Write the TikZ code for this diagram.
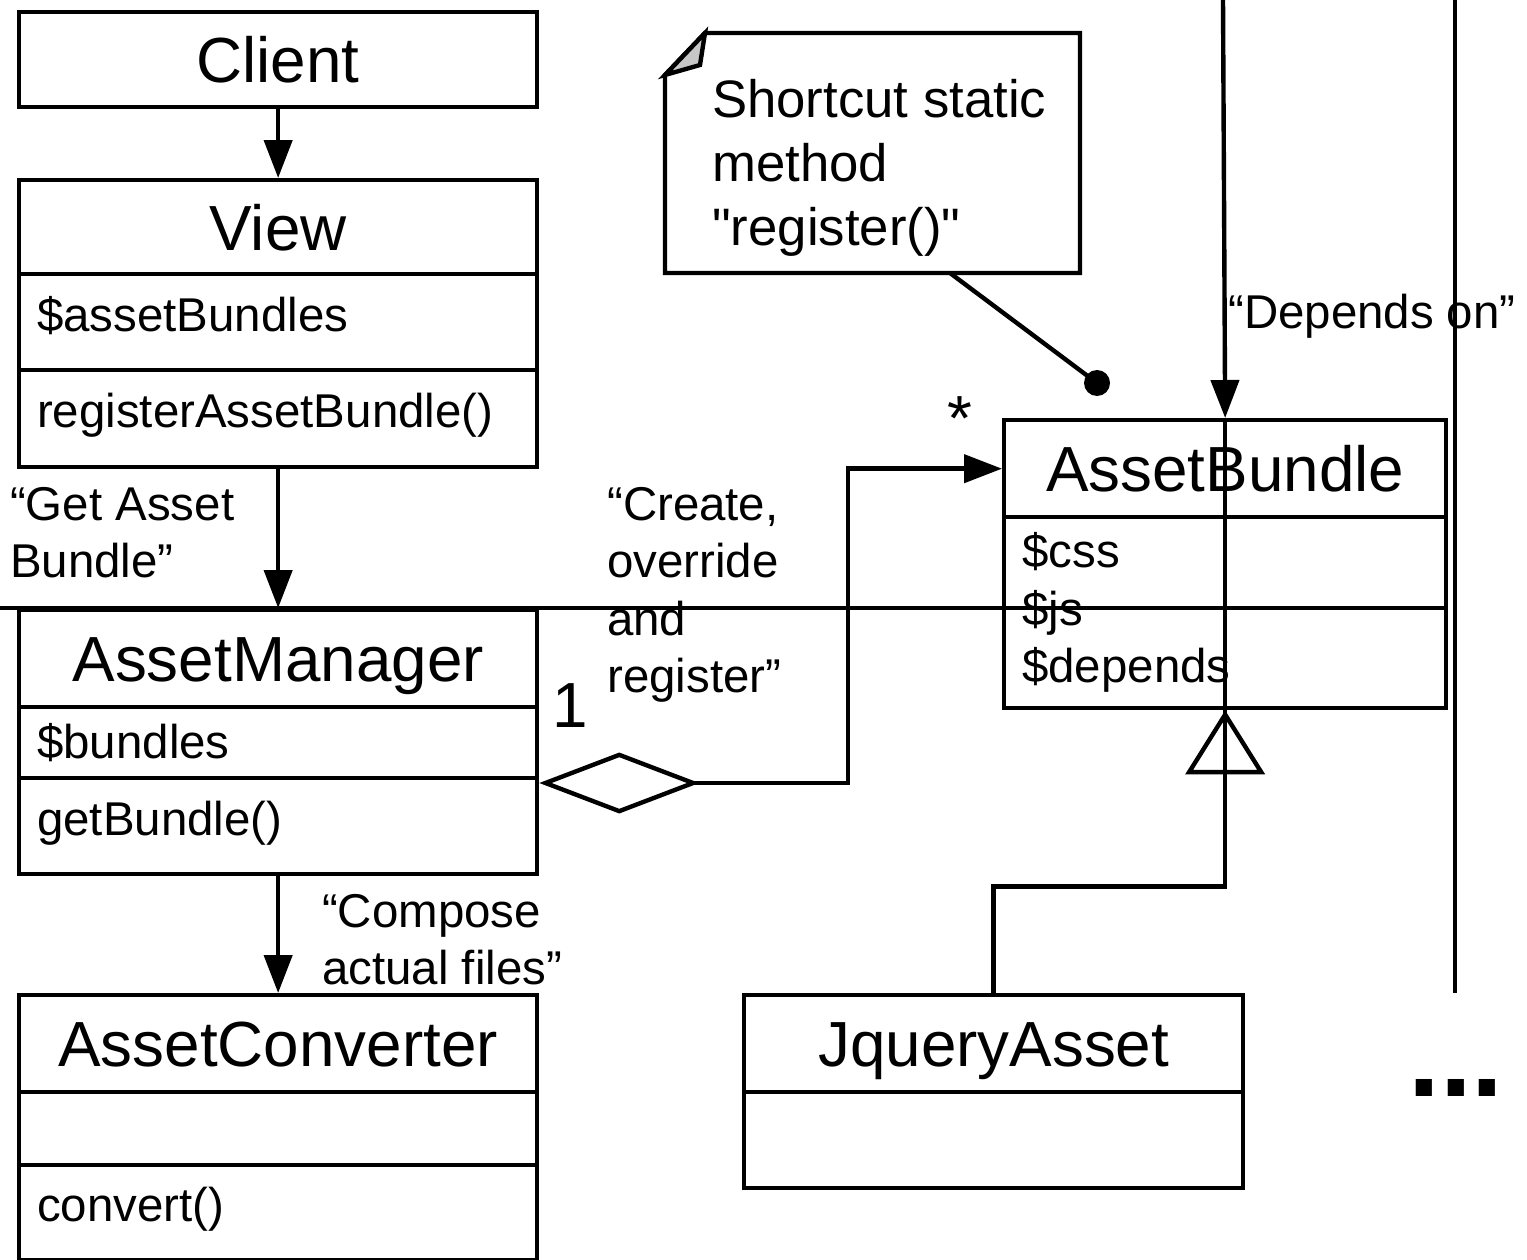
\documentclass[tikz,border=0pt]{standalone}
\usepackage{fontspec}
\setmainfont{Liberation Sans}
\usetikzlibrary{arrows.meta, positioning, calc}

\newcommand{\classfont}{\fontsize{36.3pt}{43pt}\selectfont}
\newcommand{\memberfont}{\fontsize{27pt}{32.7pt}\selectfont}
\newcommand{\notesize}{\fontsize{30pt}{36.4pt}\selectfont}

\tikzset{
    box/.style={draw, rectangle, anchor=north west, inner sep=0pt, minimum width=#1},
    title/.style={font=\classfont, text height=1cm, text depth=0.08cm},
    members/.style={font=\memberfont, text width=#1, align=left, inner xsep=0.36cm},
    raised/.style={text height=0.8cm, text depth=0.44cm},
    lbl/.style={font=\memberfont, anchor=north west, inner sep=0pt, align=left},
    assoc/.style={-{Triangle[length=0.76cm, width=0.56cm]}},
    aggr/.style={{Diamond[open, length=3.2cm, width=1.22cm]}-{Triangle[length=0.76cm, width=0.56cm]}},
    gen/.style={-{Triangle[open, length=1.28cm, width=1.58cm]}}
}

\begin{document}
\begin{tikzpicture}[x=0.02cm, y=-0.02cm, line width=2.5pt]
    \useasboundingbox (0,0) rectangle (1527,1260);

    % left column
    \node[box=10.36cm, title, minimum height=1.9cm] (client) at (17,10) {Client};

    \node[box=10.36cm, title, minimum height=1.88cm] (view) at (17,178) {View};
    \node[box=10.36cm, members=9.64cm, raised, minimum height=1.92cm] (view-attr) at (17,272) {\$assetBundles};
    \node[box=10.36cm, members=9.64cm, raised, minimum height=1.94cm] (view-ops) at (17,368) {registerAssetBundle()};

    \node[box=10.36cm, title, minimum height=1.94cm] (manager) at (17,608) {AssetManager};
    \node[box=10.36cm, members=9.64cm, minimum height=1.42cm] (manager-attr) at (17,705) {\$bundles};
    \node[box=10.36cm, members=9.64cm, raised, minimum height=1.92cm] (manager-ops) at (17,776) {getBundle()};

    \node[box=10.36cm, title, minimum height=1.94cm] (converter) at (17,993) {AssetConverter};
    \node[box=10.36cm, members=9.64cm, minimum height=1.46cm] (converter-attr) at (17,1090) {};
    \node[box=10.36cm, members=9.64cm, raised, minimum height=1.9cm] (converter-ops) at (17,1163) {convert()};

    % right side
    \node[box=8.84cm, title, minimum height=1.94cm] (bundle) at (1002,418) {AssetBundle};
    \node[box=8.84cm, members=8.12cm, minimum height=3.82cm] (bundle-attr) at (1002,515) {\$css\\\$js\\\$depends};

    \node[box=9.98cm, title, minimum height=1.94cm] (jquery) at (742,993) {JqueryAsset};
    \node[box=9.98cm, members=9.26cm, minimum height=1.92cm] (jquery-attr) at (742,1090) {};

    % note
    \filldraw[fill=white] (705,33) -- (1080,33) -- (1080,273) -- (665,273) -- (665,75) -- cycle;
    \filldraw[fill=black!22] (705,33) -- (700,65) -- (665,75) -- cycle;
    \node[lbl, font=\notesize] (note) at (710,77) {Shortcut static\\method\\\textquotedbl register()\textquotedbl};
    \coordinate (note-foot) at (950,273);
    \coordinate (pin) at (1097,383);
    \draw (note-foot) -- (pin);
    \fill (pin) circle (13);

    % labels
    \node[lbl] (get-lbl) at (8,485) {“Get Asset\\Bundle”};
    \node[lbl] (create-lbl) at (605,485) {“Create,\\override\\and\\register”};
    \node[lbl] (compose-lbl) at (320,892) {“Compose\\actual files”};
    \node[lbl] (depends-lbl) at (1226,292) {“Depends on”};
    \node[font=\classfont, anchor=base] (one) at (570,727) {1};
    \node[font=\classfont, anchor=base] (many) at (960,440) {*};
    \node[font=\fontsize{65pt}{70pt}\selectfont\bfseries] (more) at (1456,1088) {...};

    % connectors
    \draw[assoc] (client) -- (view);
    \draw[assoc] (view-ops) -- (manager);
    \draw[assoc] (manager-ops) -- (converter);
    \draw[aggr] ([yshift=-0.14cm]manager-ops.north east) -| ([xshift=-3.08cm]bundle.west) -- (bundle.west);
    \draw[gen] (jquery.north) |- ([yshift=-3.52cm]bundle-attr.south) -- (bundle-attr.south);

    \coordinate (dep-top) at (1223,0);
    \draw[assoc] (dep-top) -- (bundle.north);
    \draw (bundle.north) -- ([yshift=-1.28cm]bundle-attr.south);

    \coordinate (side-top) at (1455,0);
    \coordinate (side-end) at (1455,993);
    \draw (side-top) -- (side-end);

    \coordinate (cut-left) at (0,608);
    \draw (cut-left) -- (manager.north -| bundle.east);
\end{tikzpicture}
\end{document}
